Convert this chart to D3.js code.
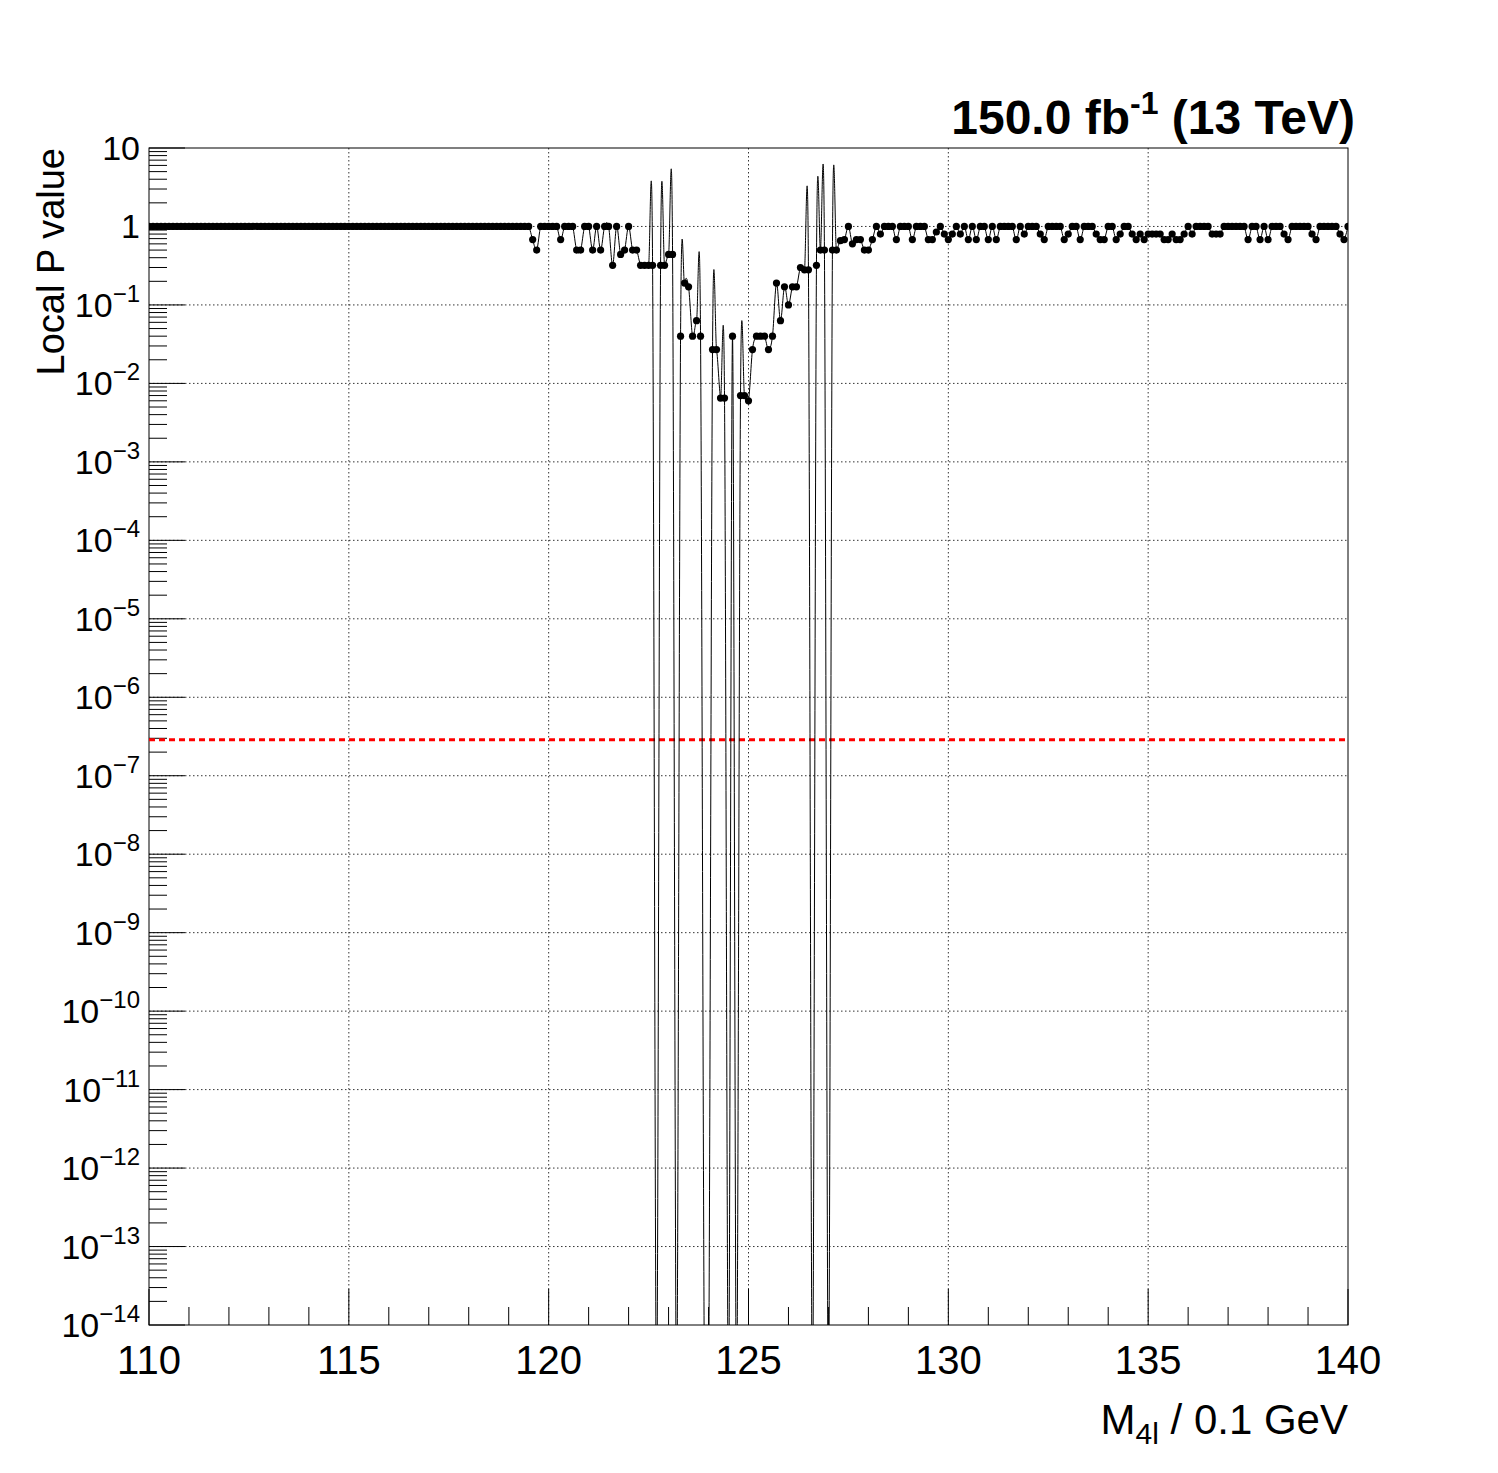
<!DOCTYPE html>
<html>
<head>
<meta charset="utf-8">
<script src="https://cdn.jsdelivr.net/npm/d3@7"></script>
<style>
  body { margin: 0; background: #fff; }
  text { font-family: "Liberation Sans", Arial, sans-serif; }
</style>
</head>
<body>
<svg id="chart" width="1498" height="1473"></svg>
<script>
// mass points start at 110 GeV, step 0.1 GeV
const massStart = 110.0;
const massStep = 0.1;

// local p-values (0 = not drawn, below the axis)
const pFlat = [
  1,1,1,1,1,1,1,1,1,1, 1,1,1,1,1,1,1,1,1,1, 1,1,1,1,1,1,1,1,1,1,
  1,1,1,1,1,1,1,1,1,1, 1,1,1,1,1,1,1,1,1,1, 1,1,1,1,1,1,1,1,1,1,
  1,1,1,1,1,1,1,1,1,1, 1,1,1,1,1,1,1,1,1,1, 1,1,1,1,1,1,1,1,1,1,
  1,1,1,1,1,1
];
const pPeak = [
  0.68,0.5,1,1,1,1,1,0.68,1,1, 1,0.5,0.5,1,1,0.5,1,0.5,1,1,
  0.32,1,0.44,0.5,1,0.5,0.5,0.32,0.32,0.32, 0.32,0,0.32,0.32,0.44,0.44,0,0.04,0.19,0.17,
  0.04,0.063,0.04,0,0,0.027,0.027,0.0065,0.0065,0, 0.04,0,0.007,0.007,0.006,0.027,0.04,0.04,0.04,0.027,
  0.04,0.19,0.063,0.17,0.1,0.17,0.17,0.3,0.28,0.28, 0,0.32,0.5,0.5,0,0.5,0.5,0.66
];
const pTail = [
  0.68,1,0.6,0.68,0.68,0.5,0.5,0.68,1,0.8, 1,1,1,0.68,1,1,1,0.68,1,1,
  1,0.68,0.68,0.85,1,0.8,0.68,0.8,1,0.8, 1,0.68,1,0.68,1,1,0.68,1,0.68,1,
  1,1,1,0.68,1,0.8,1,1,1,0.8, 0.68,1,1,1,1,0.68,0.8,1,1,0.68,
  1,1,1,0.8,0.68,0.68,1,1,0.68,0.8, 1,1,0.8,0.68,0.8,0.68,0.8,0.8,0.8,0.8,
  0.68,0.68,0.8,0.68,0.68,0.8,1,0.8,1,1, 1,1,0.8,0.8,0.8,1,1,1,1,1,
  1,0.68,1,1,0.68,1,0.68,1,1,1, 0.8,0.68,1,1,1,1,1,0.8,0.68,1,
  1,1,1,1,0.8,0.68,1
];
const pValues = pFlat.concat(pPeak, pTail);
const masses = pValues.map((d, i) => massStart + i * massStep);

const fiveSigma = 2.87e-7;
const xTicks = [110, 115, 120, 125, 130, 135, 140];
const yExps = d3.range(-14, 2);

const svg = d3.select("#chart");
const pLeft = 149, pRight = 1348, pTop = 148, pBottom = 1325;

const x = d3.scaleLinear().domain([110, 140]).range([pLeft, pRight]);
const y = d3.scaleLog().domain([1e-14, 10]).range([pBottom, pTop]);

svg.append("defs").append("clipPath").attr("id", "clip")
  .append("rect").attr("x", pLeft).attr("y", pTop)
  .attr("width", pRight - pLeft).attr("height", pBottom - pTop);

// grid
const grid = svg.append("g").attr("stroke", "#000").attr("stroke-width", 0.8)
  .attr("stroke-dasharray", "1.5,2.5");
xTicks.slice(1, -1).forEach(t => {
  grid.append("line").attr("x1", x(t)).attr("x2", x(t)).attr("y1", pTop).attr("y2", pBottom);
});
yExps.slice(1, -1).forEach(e => {
  grid.append("line").attr("x1", pLeft).attr("x2", pRight)
    .attr("y1", y(Math.pow(10, e))).attr("y2", y(Math.pow(10, e)));
});

// frame
svg.append("rect").attr("x", pLeft).attr("y", pTop).attr("width", pRight - pLeft)
  .attr("height", pBottom - pTop).attr("fill", "none").attr("stroke", "#000");

// x ticks
const ticks = svg.append("g").attr("stroke", "#000");
d3.range(110, 141, 1).forEach(t => {
  const len = (t % 5 === 0) ? 36 : 18;
  ticks.append("line").attr("x1", x(t)).attr("x2", x(t)).attr("y1", pBottom).attr("y2", pBottom - len);
});
xTicks.forEach(t => {
  svg.append("text").attr("x", x(t)).attr("y", 1374).attr("text-anchor", "middle")
    .attr("font-size", 40).text(t);
});

// y ticks
yExps.forEach(e => {
  const v = Math.pow(10, e);
  ticks.append("line").attr("x1", pLeft).attr("x2", pLeft + 36).attr("y1", y(v)).attr("y2", y(v));
  if (e < 1) {
    for (let k = 2; k < 10; k++) {
      const vv = k * v;
      ticks.append("line").attr("x1", pLeft).attr("x2", pLeft + 18).attr("y1", y(vv)).attr("y2", y(vv));
    }
  }
  const lab = svg.append("text").attr("x", 140).attr("y", y(v) + 12)
    .attr("text-anchor", "end").attr("font-size", 34);
  if (e === 0) lab.text("1");
  else if (e === 1) lab.text("10");
  else {
    lab.append("tspan").text("10");
    lab.append("tspan").attr("dy", -15).attr("font-size", 24).text("\u2212" + (-e));
  }
});

// five sigma line
svg.append("line").attr("x1", pLeft).attr("x2", pRight)
  .attr("y1", y(fiveSigma)).attr("y2", y(fiveSigma))
  .attr("stroke", "#ff0000").attr("stroke-width", 3).attr("stroke-dasharray", "6,4");

// smooth curve, zeros pushed below the frame
const plot = svg.append("g").attr("clip-path", "url(#clip)");
const line = d3.line()
  .x((d, i) => x(masses[i]))
  .y(d => d > 0 ? y(d) : pBottom + 80)
  .curve(d3.curveCardinal.tension(0));
plot.append("path").datum(pValues).attr("d", line)
  .attr("fill", "none").attr("stroke", "#000").attr("stroke-width", 1);

plot.selectAll("circle").data(pValues.map((d, i) => [masses[i], d]).filter(d => d[1] > 0))
  .join("circle")
  .attr("cx", d => x(d[0])).attr("cy", d => y(d[1])).attr("r", 3.6).attr("fill", "#000");

// titles
const tt = svg.append("text").attr("x", 1355).attr("y", 134).attr("text-anchor", "end")
  .attr("font-size", 48).attr("font-weight", "bold");
tt.append("tspan").text("150.0 fb");
tt.append("tspan").attr("dy", -20).attr("font-size", 32).text("-1");
tt.append("tspan").attr("dy", 20).text(" (13 TeV)");

svg.append("text").attr("transform", "translate(64,148) rotate(-90)")
  .attr("text-anchor", "end").attr("font-size", 38).text("Local P value");

const xt = svg.append("text").attr("x", 1348).attr("y", 1434).attr("text-anchor", "end")
  .attr("font-size", 42);
xt.append("tspan").text("M");
xt.append("tspan").attr("dy", 10).attr("font-size", 30).text("4l");
xt.append("tspan").attr("dy", -10).text(" / 0.1 GeV");
</script>
</body>
</html>
